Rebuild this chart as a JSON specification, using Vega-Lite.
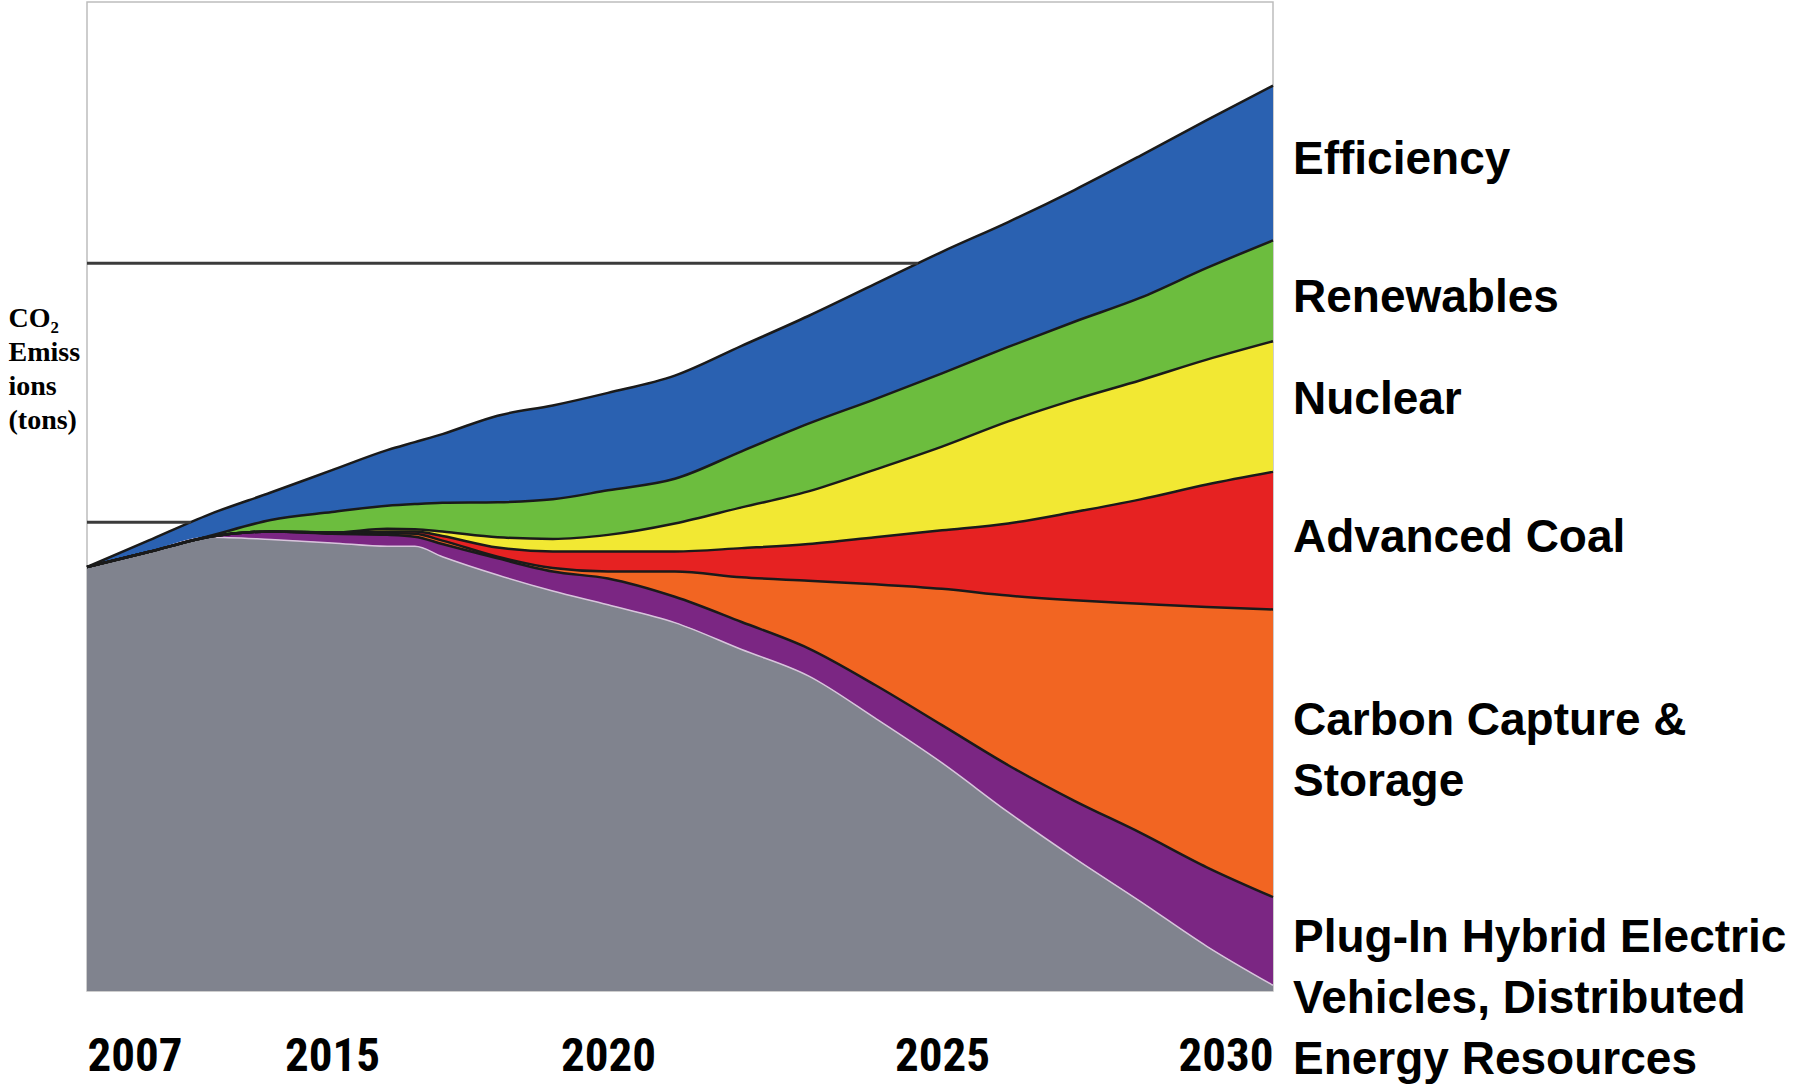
{
  "$schema": "https://vega.github.io/schema/vega-lite/v6.json",
  "width": 1186,
  "height": 989,
  "autosize": {"type": "none"},
  "padding": {"left": 87, "top": 2, "right": 523, "bottom": 95},
  "background": "white",
  "config": {"view": {"stroke": "#bdbdbd", "strokeWidth": 1.5}},
  "datasets": {
    "wedges": [
      {"year": 2007, "base": 42.87, "phev": 0, "ccs": 0, "coal": 0, "nuclear": 0, "renewables": 0, "efficiency": 0},
      {"year": 2009, "base": 44.38, "phev": 0, "ccs": 0, "coal": 0, "nuclear": 0, "renewables": 0, "efficiency": 1.16},
      {"year": 2011, "base": 45.88, "phev": 0.06, "ccs": 0, "coal": 0, "nuclear": 0, "renewables": 0.06, "efficiency": 2.2},
      {"year": 2013, "base": 45.65, "phev": 0.81, "ccs": 0, "coal": 0, "nuclear": 0, "renewables": 1.16, "efficiency": 2.78},
      {"year": 2015, "base": 45.31, "phev": 0.92, "ccs": 0.12, "coal": 0, "nuclear": 0, "renewables": 2.08, "efficiency": 4.23},
      {"year": 2016, "base": 44.96, "phev": 1.16, "ccs": 0.17, "coal": 0.17, "nuclear": 0.29, "renewables": 2.32, "efficiency": 5.62},
      {"year": 2016.5, "base": 44.96, "phev": 0.98, "ccs": 0.29, "coal": 0.23, "nuclear": 0.24, "renewables": 2.54, "efficiency": 6.26},
      {"year": 2017, "base": 43.91, "phev": 1.28, "ccs": 0.35, "coal": 0.46, "nuclear": 0.46, "renewables": 2.9, "efficiency": 6.95},
      {"year": 2018, "base": 42.06, "phev": 1.68, "ccs": 0.17, "coal": 0.93, "nuclear": 1.04, "renewables": 3.54, "efficiency": 8.75},
      {"year": 2019, "base": 40.44, "phev": 1.97, "ccs": 0.35, "coal": 1.68, "nuclear": 1.27, "renewables": 4.0, "efficiency": 9.5},
      {"year": 2020, "base": 39.05, "phev": 2.66, "ccs": 0.7, "coal": 2.03, "nuclear": 1.68, "renewables": 4.51, "efficiency": 9.85},
      {"year": 2021, "base": 37.25, "phev": 2.61, "ccs": 2.55, "coal": 2.03, "nuclear": 2.83, "renewables": 4.52, "efficiency": 10.43},
      {"year": 2022, "base": 34.53, "phev": 2.78, "ccs": 4.52, "coal": 2.95, "nuclear": 4.12, "renewables": 5.67, "efficiency": 10.66},
      {"year": 2023, "base": 31.86, "phev": 2.79, "ccs": 6.83, "coal": 3.71, "nuclear": 5.33, "renewables": 6.84, "efficiency": 10.89},
      {"year": 2024, "base": 27.58, "phev": 3.36, "ccs": 10.19, "coal": 4.75, "nuclear": 6.84, "renewables": 7.13, "efficiency": 11.64},
      {"year": 2025, "base": 23.06, "phev": 3.82, "ccs": 13.79, "coal": 5.91, "nuclear": 8.46, "renewables": 7.41, "efficiency": 12.29},
      {"year": 2026, "base": 18.08, "phev": 4.75, "ccs": 17.15, "coal": 7.29, "nuclear": 10.32, "renewables": 7.53, "efficiency": 12.63},
      {"year": 2027, "base": 13.44, "phev": 5.79, "ccs": 20.28, "coal": 8.92, "nuclear": 11.36, "renewables": 7.88, "efficiency": 13.32},
      {"year": 2028, "base": 9.04, "phev": 6.95, "ccs": 23.17, "coal": 10.55, "nuclear": 12.05, "renewables": 8.34, "efficiency": 14.37},
      {"year": 2029, "base": 4.52, "phev": 7.99, "ccs": 26.31, "coal": 12.39, "nuclear": 12.63, "renewables": 9.27, "efficiency": 14.95},
      {"year": 2030, "base": 0.58, "phev": 8.92, "ccs": 29.08, "coal": 13.91, "nuclear": 13.21, "renewables": 10.19, "efficiency": 15.65}
    ],
    "sources": [
      {"source": "base", "rank": 1, "label": ""},
      {"source": "phev", "rank": 2, "label": "Plug-In Hybrid Electric\nVehicles, Distributed\nEnergy Resources"},
      {"source": "ccs", "rank": 3, "label": "Carbon Capture &\nStorage"},
      {"source": "coal", "rank": 4, "label": "Advanced Coal"},
      {"source": "nuclear", "rank": 5, "label": "Nuclear"},
      {"source": "renewables", "rank": 6, "label": "Renewables"},
      {"source": "efficiency", "rank": 7, "label": "Efficiency"}
    ],
    "levels": [
      {"level": 73.58, "from": 2007, "to": 2024.64},
      {"level": 47.39, "from": 2007, "to": 2010.4}
    ]
  },
  "data": {"name": "wedges"},
  "transform": [
    {"fold": ["base", "phev", "ccs", "coal", "nuclear", "renewables", "efficiency"], "as": ["source", "value"]},
    {"lookup": "source", "from": {"data": {"name": "sources"}, "key": "source", "fields": ["rank", "label"]}},
    {"stack": "value", "groupby": ["year"], "sort": [{"field": "rank", "order": "ascending"}], "as": ["lo", "hi"]}
  ],
  "layer": [
    {
      "mark": {"type": "area", "interpolate": "monotone"},
      "encoding": {
        "x": {
          "field": "year", "type": "quantitative",
          "scale": {"domain": [2007, 2015, 2020, 2025, 2030], "range": [0, 245, 521, 855, 1186], "nice": false, "zero": false},
          "axis": {
            "values": [2007, 2015, 2020, 2025, 2030], "format": "d", "title": null,
            "labelFlush": true, "labelFlushOffset": 0, "domain": false, "ticks": false, "grid": false,
            "labelFont": "Roboto Condensed, Liberation Sans Narrow, DejaVu Sans Condensed, sans-serif",
            "labelFontWeight": "bold", "labelFontSize": 47, "labelColor": "#000000",
            "labelPadding": 42, "labelBaseline": "top"
          }
        },
        "y": {
          "field": "hi", "type": "quantitative",
          "scale": {"domain": [0, 100], "nice": false, "zero": true},
          "axis": {
            "title": ["CO₂", "Emiss", "ions", "(tons)"],
            "labels": false, "ticks": false, "domain": false, "grid": false,
            "titleAngle": 0, "titleAlign": "left", "titleBaseline": "alphabetic",
            "titleX": -79, "titleY": 324,
            "titleFont": "Liberation Serif, DejaVu Serif, serif", "titleFontSize": 28,
            "titleFontWeight": "bold", "titleLineHeight": 34, "titleColor": "#000000"
          }
        },
        "y2": {"field": "lo"},
        "color": {
          "field": "source", "type": "nominal",
          "scale": {
            "domain": ["base", "phev", "ccs", "coal", "nuclear", "renewables", "efficiency"],
            "range": ["#80838e", "#7b2683", "#f26522", "#e62222", "#f2e833", "#6cbd3e", "#2a61b1"]
          },
          "legend": null
        }
      }
    },
    {
      "transform": [{"filter": "datum.source === 'base'"}],
      "mark": {"type": "line", "interpolate": "monotone", "stroke": "#d8c4dc", "strokeWidth": 1.5},
      "encoding": {
        "x": {"field": "year", "type": "quantitative"},
        "y": {"field": "hi", "type": "quantitative"}
      }
    },
    {
      "transform": [{"filter": "datum.source !== 'base'"}],
      "mark": {"type": "line", "interpolate": "monotone", "stroke": "#1a1a1a", "strokeWidth": 2.5},
      "encoding": {
        "x": {"field": "year", "type": "quantitative"},
        "y": {"field": "hi", "type": "quantitative"},
        "detail": {"field": "source"}
      }
    },
    {
      "data": {"name": "levels"},
      "mark": {"type": "rule", "stroke": "#3b3b3b", "strokeWidth": 3},
      "encoding": {
        "x": {"field": "from", "type": "quantitative"},
        "x2": {"field": "to"},
        "y": {"field": "level", "type": "quantitative"}
      }
    },
    {
      "transform": [
        {"filter": "datum.year === 2030 && (datum.source === 'efficiency' || datum.source === 'coal' || datum.source === 'phev')"},
        {"calculate": "(datum.lo + datum.hi) / 2", "as": "mid"}
      ],
      "mark": {"type": "text", "align": "left", "baseline": "middle", "dx": 20, "dy": -3, "font": "Liberation Sans, Arial, sans-serif", "fontWeight": "bold", "fontSize": 46, "lineBreak": "\n", "lineHeight": 61, "color": "#000000"},
      "encoding": {
        "x": {"field": "year", "type": "quantitative"},
        "y": {"field": "mid", "type": "quantitative"},
        "text": {"field": "label"}
      }
    },
    {
      "transform": [
        {"filter": "datum.year === 2030 && datum.source === 'renewables'"},
        {"calculate": "(datum.lo + datum.hi) / 2", "as": "mid"}
      ],
      "mark": {"type": "text", "align": "left", "baseline": "middle", "dx": 20, "dy": 7, "font": "Liberation Sans, Arial, sans-serif", "fontWeight": "bold", "fontSize": 46, "color": "#000000"},
      "encoding": {
        "x": {"field": "year", "type": "quantitative"},
        "y": {"field": "mid", "type": "quantitative"},
        "text": {"field": "label"}
      }
    },
    {
      "transform": [
        {"filter": "datum.year === 2030 && datum.source === 'nuclear'"},
        {"calculate": "(datum.lo + datum.hi) / 2", "as": "mid"}
      ],
      "mark": {"type": "text", "align": "left", "baseline": "middle", "dx": 20, "dy": -7, "font": "Liberation Sans, Arial, sans-serif", "fontWeight": "bold", "fontSize": 46, "color": "#000000"},
      "encoding": {
        "x": {"field": "year", "type": "quantitative"},
        "y": {"field": "mid", "type": "quantitative"},
        "text": {"field": "label"}
      }
    },
    {
      "transform": [
        {"filter": "datum.year === 2030 && datum.source === 'ccs'"},
        {"calculate": "(datum.lo + datum.hi) / 2", "as": "mid"}
      ],
      "mark": {"type": "text", "align": "left", "baseline": "middle", "dx": 20, "dy": -32, "font": "Liberation Sans, Arial, sans-serif", "fontWeight": "bold", "fontSize": 46, "lineBreak": "\n", "lineHeight": 61, "color": "#000000"},
      "encoding": {
        "x": {"field": "year", "type": "quantitative"},
        "y": {"field": "mid", "type": "quantitative"},
        "text": {"field": "label"}
      }
    }
  ]
}
